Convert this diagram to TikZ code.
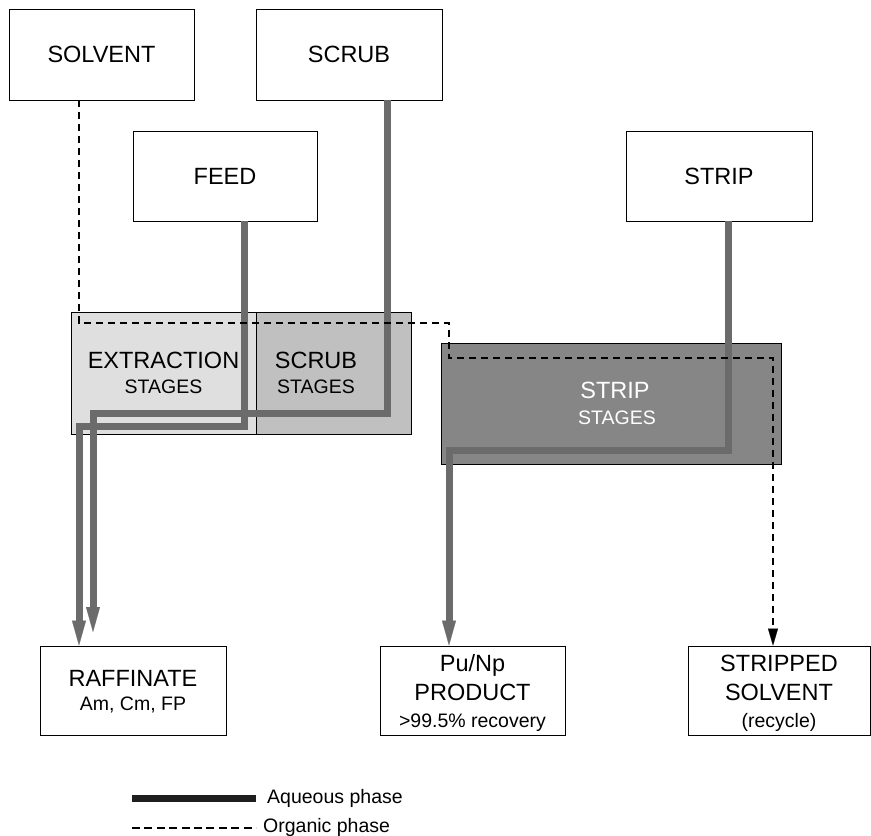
\documentclass[tikz,border=0pt]{standalone}
\usepackage{fontspec}
\setmainfont{Liberation Sans}
\usetikzlibrary{arrows.meta}
\definecolor{aqgray}{HTML}{6B6B6B}
\definecolor{extfill}{HTML}{DFDFDF}
\definecolor{scrfill}{HTML}{C0C0C0}
\definecolor{stripfill}{HTML}{868686}
\definecolor{legdark}{HTML}{1E1E1E}

\begin{document}
\begin{tikzpicture}[x=1pt,y=-1pt,
  box/.style={draw=black, line width=0.9pt, fill=white, inner sep=0pt},
  stagebox/.style={draw=black, line width=0.9pt, inner sep=0pt},
  big/.style={font=\fontsize{23.5}{26}\selectfont, inner sep=0pt, anchor=base},
  small/.style={font=\fontsize{19.5}{22}\selectfont, inner sep=0pt, anchor=base},
  aqueous/.style={draw=aqgray, line width=7pt, line join=miter},
  aqarrow/.style={aqueous, -{Triangle[length=25pt,width=14pt,line width=0.1pt]}},
  organic/.style={draw=black, line width=2.4pt, dash pattern=on 7pt off 5pt},
  orgarrow/.style={organic, -{Triangle[length=17pt,width=10pt,line width=0.1pt]}}]

\useasboundingbox (0,0) rectangle (871,836);

% contactor stages
\node[stagebox, fill=extfill, minimum width=185pt, minimum height=122pt] (ext) at (163.5,373) {};
\node[stagebox, fill=scrfill, minimum width=155pt, minimum height=122pt] (scrst) at (333.5,373) {};
\node[stagebox, fill=stripfill, minimum width=340pt, minimum height=121pt] (strst) at (611,403.5) {};

\node[big] (extt1) at (163.5,368) {EXTRACTION};
\node[small] (extt2) at (163.5,393) {STAGES};
\node[big] (scrt1) at (316,368) {SCRUB};
\node[small] (scrt2) at (316,393) {STAGES};
\node[big, text=white] (strt1) at (615,398) {STRIP};
\node[small, text=white] (strt2) at (617,424) {STAGES};

% input streams
\node[box, minimum width=185pt, minimum height=91pt] (solvent) at (101.5,54.5) {};
\node[big] at (solvent.center) [yshift=-8.4pt] (solventt) {SOLVENT};
\node[box, minimum width=186pt, minimum height=91pt] (scrub) at (349,54.5) {};
\node[big] at (scrub.center) [yshift=-8.4pt] (scrubt) {SCRUB};
\node[box, minimum width=184pt, minimum height=90pt] (feed) at (225,176) {};
\node[big] at (feed.center) [yshift=-8.4pt] (feedt) {FEED};
\node[box, minimum width=186pt, minimum height=90pt] (strip) at (719,176) {};
\node[big] at (strip.center) [yshift=-8.4pt] (stript) {STRIP};

% output streams
\node[box, minimum width=186pt, minimum height=89pt] (raff) at (133,690.5) {};
\node[big] (rafft1) at (133,686) {RAFFINATE};
\node[small] (rafft2) at (133,710) {Am, Cm, FP};
\node[box, minimum width=185pt, minimum height=89pt] (prod) at (472.5,690.5) {};
\node[big] (prodt1) at (472.5,671) {Pu/Np};
\node[big] (prodt2) at (472.5,700) {PRODUCT};
\node[small] (prodt3) at (472.5,727) {>99.5\% recovery};
\node[box, minimum width=182pt, minimum height=89pt] (strsolv) at (779,690.5) {};
\node[big] (strsolvt1) at (779,671) {STRIPPED};
\node[big] (strsolvt2) at (779,700) {SOLVENT};
\node[small] (strsolvt3) at (779,727) {(recycle)};

% routing points
\coordinate (feedx) at (244,0);
\coordinate (feedturn) at (79,426);
\coordinate (scrubx) at (387,0);
\coordinate (scrubturn) at (93,413);
\coordinate (scrubend) at (93,632);
\coordinate (stripx) at (728,0);
\coordinate (stripturn) at (449,450);
\coordinate (solvx) at (79,0);
\coordinate (orgturn1) at (449,323);
\coordinate (orgturn2) at (773,358);

% aqueous streams
\draw[aqarrow] (feed.south -| feedx) |- (feedturn) -- (feedturn |- raff.north);
\draw[aqarrow] (scrub.south -| scrubx) |- (scrubturn) -- (scrubend);
\draw[aqarrow] (strip.south -| stripx) |- (stripturn) -- (stripturn |- prod.north);

% organic stream
\draw[orgarrow] (solvent.south -| solvx) |- (orgturn1) |- (orgturn2) -- (orgturn2 |- strsolv.north);

% legend
\coordinate (legA1) at (132,798);
\coordinate (legA2) at (256,798);
\coordinate (legO1) at (132,828);
\coordinate (legO2) at (256,828);
\draw[draw=legdark, line width=7pt] (legA1) -- (legA2);
\draw[draw=black, line width=2.4pt, dash pattern=on 8pt off 4.4pt] (legO1) -- (legO2);
\node[small, anchor=base west] (legAt) at (267,803) {Aqueous phase};
\node[small, anchor=base west] (legOt) at (263,832) {Organic phase};

\end{tikzpicture}
\end{document}
